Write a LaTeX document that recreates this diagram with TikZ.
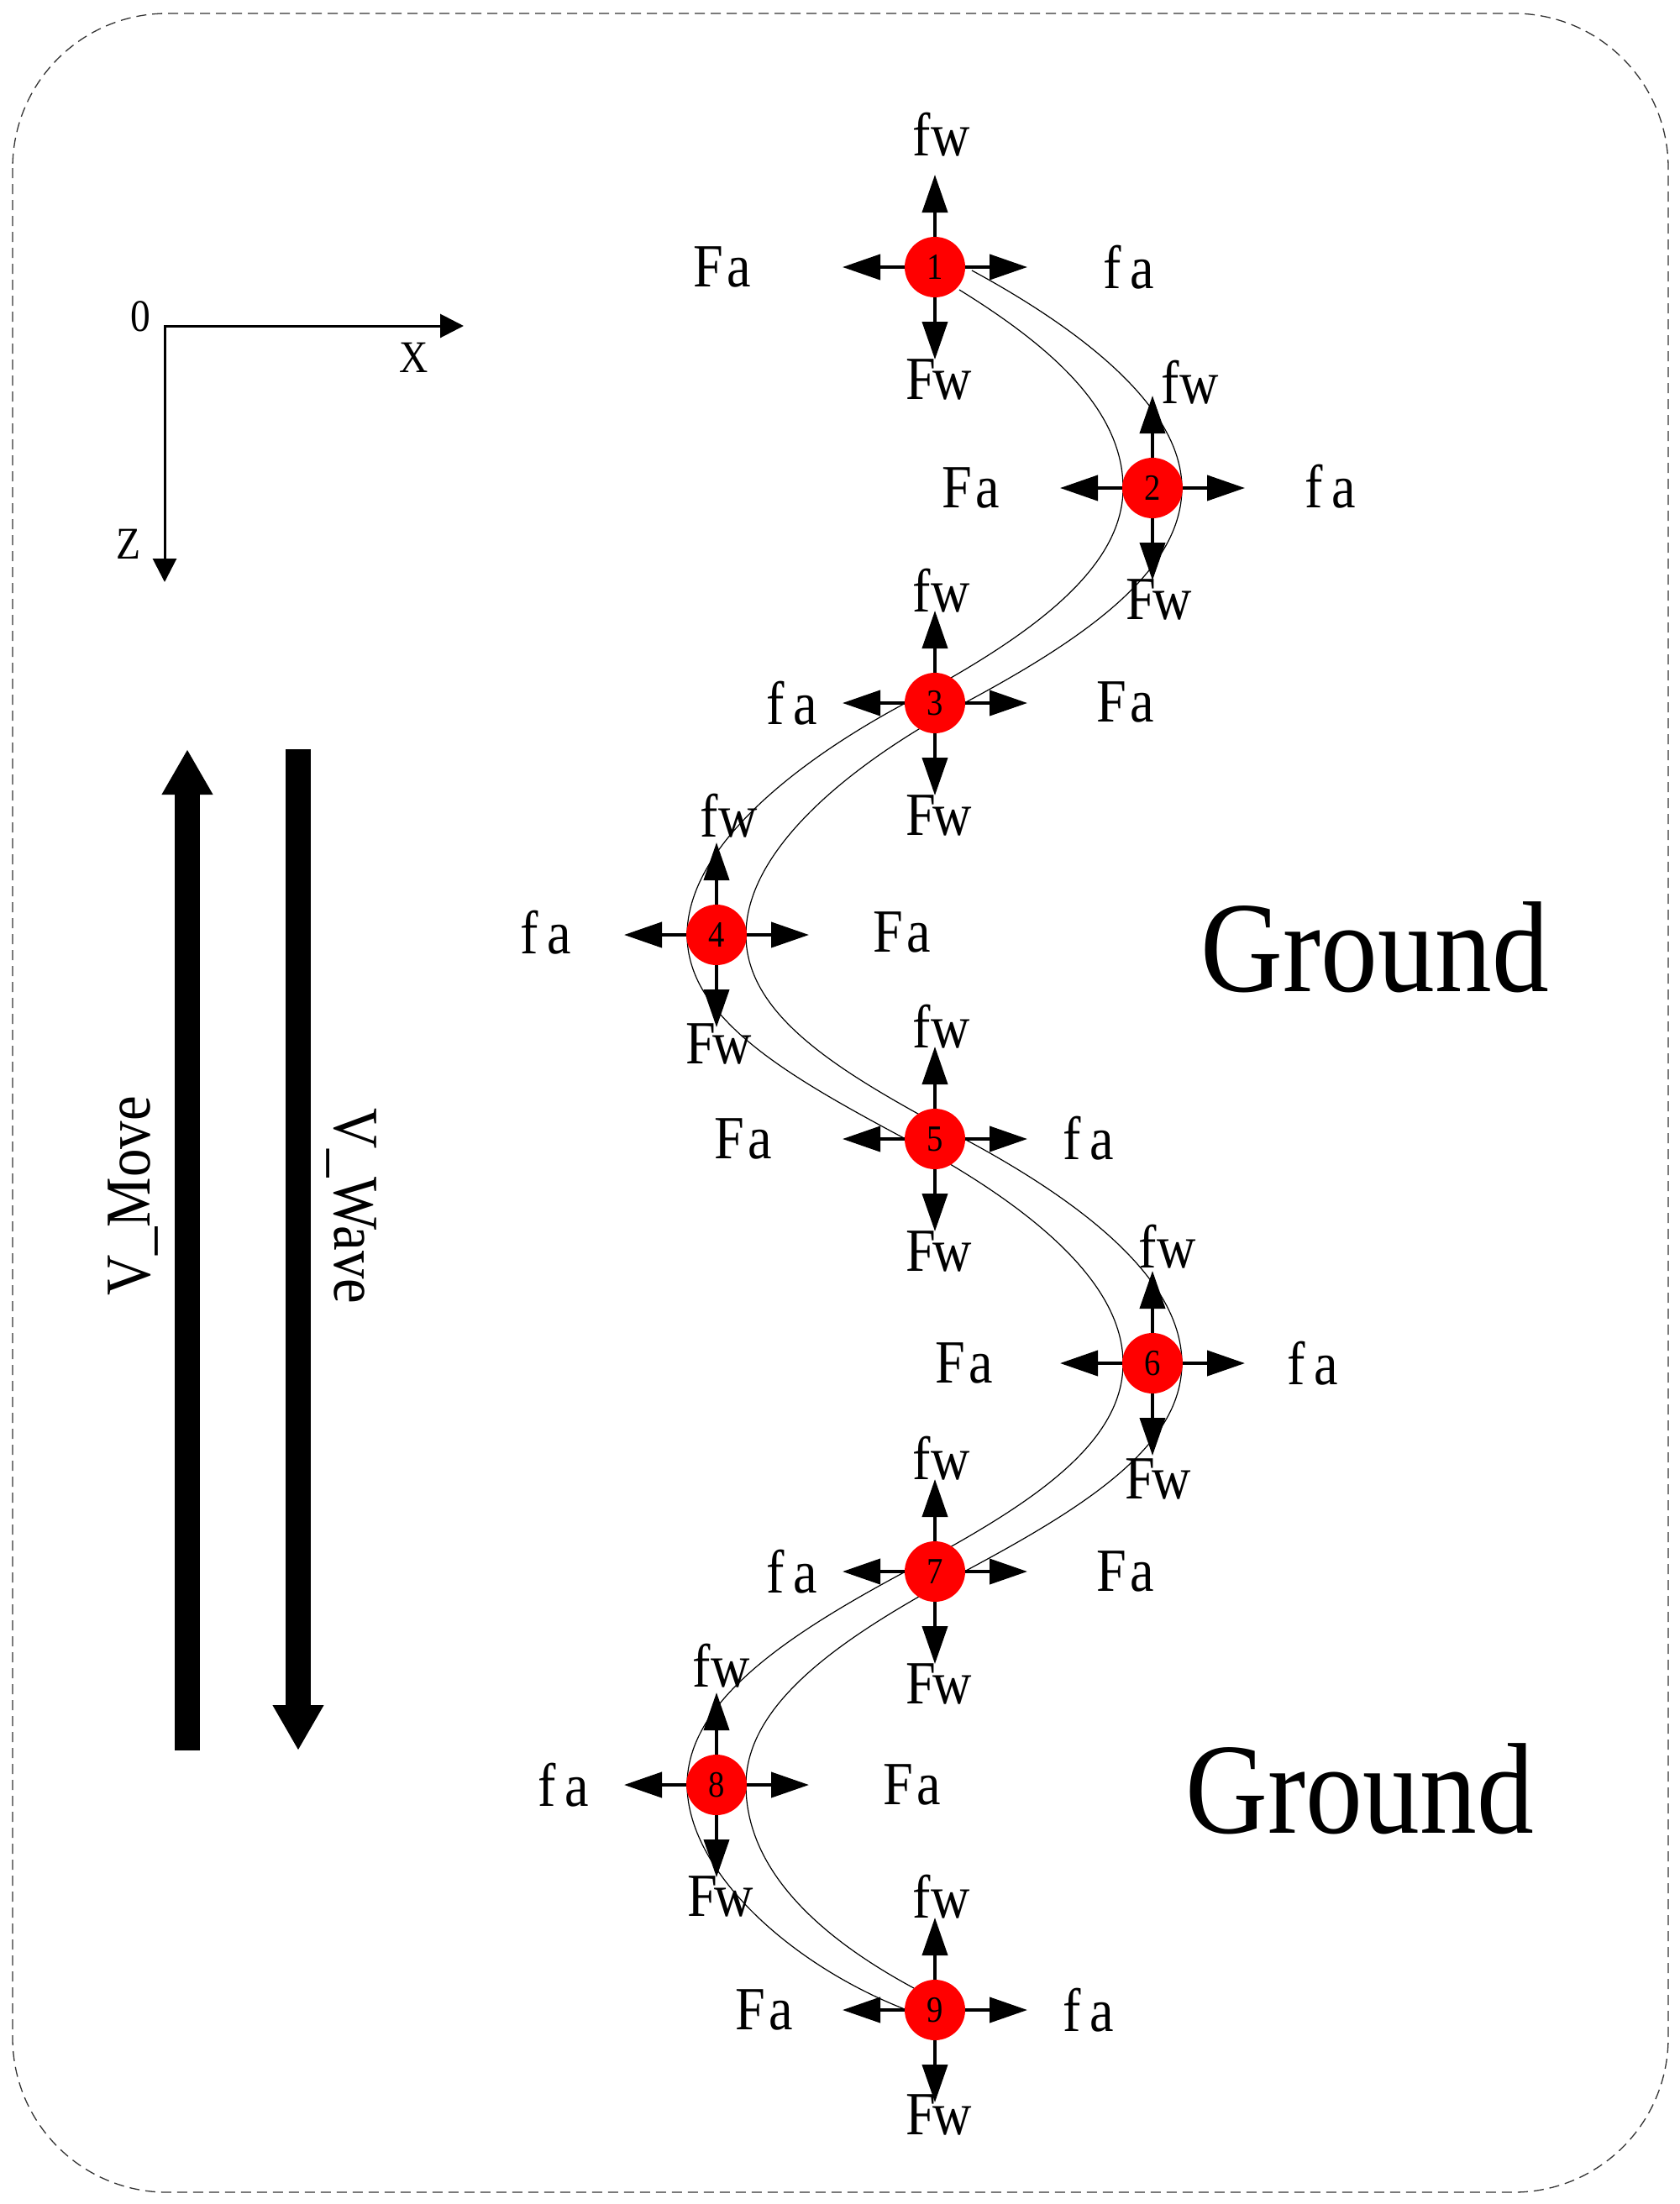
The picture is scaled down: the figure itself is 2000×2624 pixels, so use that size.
\documentclass[tikz,border=0pt]{standalone}
\usepackage{fontspec}
\setmainfont{Liberation Serif}
\newfontfamily\labfont[FakeStretch=0.88]{Liberation Serif}
\usetikzlibrary{arrows.meta}
\newcommand\mch[1]{\makebox[0.5em]{#1}}
\newcommand\Lfw{\makebox[0.45em]{f}\mch{w}}
\newcommand\LFw{\mch{F}\mch{w}}
\newcommand\Lfa{\makebox[0.48em]{f}\makebox[0.48em]{a}}
\newcommand\LFa{\mch{F}\mch{a}}
\begin{document}
\begin{tikzpicture}[x=0.5pt,y=-0.5pt,
  ball/.style={circle,fill=red,minimum size=36pt,inner sep=0pt,font=\labfont\fontsize{22}{22}\selectfont},
  force/.style={line width=2pt,-{Triangle[length=22.5pt,width=15pt]}},
  lbl/.style={inner sep=0pt,font=\labfont\fontsize{36.5}{40}\selectfont},
  big/.style={font=\labfont\fontsize{77}{80}\selectfont,inner sep=0pt},
  ax/.style={line width=1.5pt,{Triangle[length=14pt,width=14pt]}-{Triangle[length=14pt,width=14pt]}},
  axl/.style={inner sep=0pt,font=\labfont\fontsize{27}{30}\selectfont},
  vel/.style={line width=15pt,-{Triangle[length=27pt,width=28.5pt]}},
  vlab/.style={inner sep=0pt,font=\labfont\fontsize{38}{40}\selectfont},
  body/.style={line width=0.6pt},
  frame/.style={draw=black!80,line width=0.65pt,dash pattern=on 6pt off 3.5pt,rounded corners=92pt}
]
\useasboundingbox (0,0) rectangle (2000,2624);
\draw[frame] (15,16) rectangle (1986,2610);

% axes
\coordinate (O) at (196,388);
\coordinate (Xt) at (552,388);
\coordinate (Zt) at (196,693);
\draw[ax] (Zt) -- (O) -- (Xt);
\node[axl] (lo) at (167,377) {0};
\node[axl] (lx) at (493,426) {X};
\node[axl] (lz) at (153,648) {Z};

% velocity arrows
\coordinate (vm1) at (223,2084); \coordinate (vm2) at (223,892);
\draw[vel] (vm1) -- (vm2);
\coordinate (vw1) at (355,892); \coordinate (vw2) at (355,2084);
\draw[vel] (vw1) -- (vw2);
\node[vlab,rotate=90] (vmove) at (159,1424) {V\_Move};
\node[vlab,rotate=-90] (vwave) at (418,1436) {V\_Wave};

% ground labels
\node[big] (g1) at (1637,1128) {Ground};
\node[big] (g2) at (1619,2130) {Ground};

% body outline
\draw[body] (1157,322) .. controls +(120,65) and +(0,-100) .. (1407,581)
 .. controls +(0,100) and +(140,-75) .. (1148,837)
 .. controls +(-140,75) and +(0,-100) .. (888,1113)
 .. controls +(0,100) and +(-140,-75) .. (1148,1356)
 .. controls +(140,75) and +(0,-100) .. (1407,1623)
 .. controls +(0,100) and +(140,-75) .. (1148,1871)
 .. controls +(-140,75) and +(0,-100) .. (888,2125)
 .. controls +(0,100) and +(-115,-62) .. (1088,2367);
\draw[body] (1142,345) .. controls +(105,65) and +(0,-95) .. (1337,581)
 .. controls +(0,100) and +(140,-75) .. (1078,837)
 .. controls +(-140,75) and +(0,-100) .. (818,1113)
 .. controls +(0,100) and +(-140,-75) .. (1078,1356)
 .. controls +(140,75) and +(0,-100) .. (1337,1623)
 .. controls +(0,100) and +(140,-75) .. (1078,1871)
 .. controls +(-140,75) and +(0,-100) .. (818,2125)
 .. controls +(0,100) and +(-140,-55) .. (1077,2392);

% segments
\node[ball] (n1) at (1113,318) {1};
\node[ball] (n2) at (1372,581) {2};
\node[ball] (n3) at (1113,837) {3};
\node[ball] (n4) at (853,1113) {4};
\node[ball] (n5) at (1113,1356) {5};
\node[ball] (n6) at (1372,1623) {6};
\node[ball] (n7) at (1113,1871) {7};
\node[ball] (n8) at (853,2125) {8};
\node[ball] (n9) at (1113,2393) {9};

\foreach \i in {1,...,9}{
  \draw[force] (n\i) -- ++(0,-110);
  \draw[force] (n\i) -- ++(0,110);
  \draw[force] (n\i) -- ++(-110,0);
  \draw[force] (n\i) -- ++(110,0);
}

% force labels
\node[lbl] (l1u) at (1115,160) {\Lfw};
\node[lbl] (l1l) at (862,318) {\LFa};
\node[lbl] (l1r) at (1342,318) {\Lfa};
\node[lbl] (l1d) at (1115,452) {\LFw};

\node[lbl] (l2u) at (1411,455) {\Lfw};
\node[lbl] (l2l) at (1158,581) {\LFa};
\node[lbl] (l2r) at (1582,579) {\Lfa};
\node[lbl] (l2d) at (1377,714) {\LFw};

\node[lbl] (l3u) at (1115,703) {\Lfw};
\node[lbl] (l3l) at (941,837) {\Lfa};
\node[lbl] (l3r) at (1342,836) {\LFa};
\node[lbl] (l3d) at (1115,971) {\LFw};

\node[lbl] (l4u) at (862,971) {\Lfw};
\node[lbl] (l4l) at (648,1110) {\Lfa};
\node[lbl] (l4r) at (1076,1110) {\LFa};
\node[lbl] (l4d) at (853,1243) {\LFw};

\node[lbl] (l5u) at (1115,1222) {\Lfw};
\node[lbl] (l5l) at (887,1356) {\LFa};
\node[lbl] (l5r) at (1294,1355) {\Lfa};
\node[lbl] (l5d) at (1115,1490) {\LFw};

\node[lbl] (l6u) at (1384,1484) {\Lfw};
\node[lbl] (l6l) at (1150,1623) {\LFa};
\node[lbl] (l6r) at (1561,1623) {\Lfa};
\node[lbl] (l6d) at (1376,1761) {\LFw};

\node[lbl] (l7u) at (1115,1736) {\Lfw};
\node[lbl] (l7l) at (941,1871) {\Lfa};
\node[lbl] (l7r) at (1342,1871) {\LFa};
\node[lbl] (l7d) at (1115,2005) {\LFw};

\node[lbl] (l8u) at (853,1983) {\Lfw};
\node[lbl] (l8l) at (669,2125) {\Lfa};
\node[lbl] (l8r) at (1088,2125) {\LFa};
\node[lbl] (l8d) at (855,2258) {\LFw};

\node[lbl] (l9u) at (1115,2258) {\Lfw};
\node[lbl] (l9l) at (912,2393) {\LFa};
\node[lbl] (l9r) at (1294,2393) {\Lfa};
\node[lbl] (l9d) at (1115,2518) {\LFw};
\end{tikzpicture}
\end{document}
